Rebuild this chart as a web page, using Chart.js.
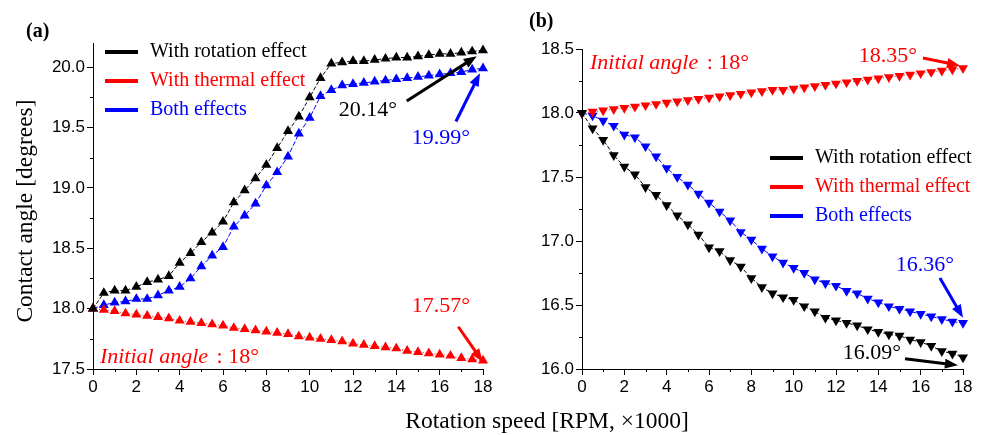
<!DOCTYPE html>
<html>
<head>
<meta charset="utf-8">
<title>Contact angle vs rotation speed</title>
<script src="https://cdn.jsdelivr.net/npm/chart.js@4.4.0/dist/chart.umd.min.js"></script>
<style>
  body { margin: 0; background: #fff; }
  #wrap { position: relative; width: 983px; height: 435px; }
  #wrap canvas { position: absolute; left: 0; top: 0; }
</style>
</head>
<body>
<div id="wrap">
  <canvas id="chartA" width="983" height="435"></canvas>
  <canvas id="chartB" width="983" height="435"></canvas>
</div>
<script>
// rotation speed [RPM x1000]
const rpm = [0, 0.5, 1, 1.5, 2, 2.5, 3, 3.5, 4, 4.5, 5, 5.5, 6, 6.5, 7, 7.5, 8, 8.5, 9,
  9.5, 10, 10.5, 11, 11.5, 12, 12.5, 13, 13.5, 14, 14.5, 15, 15.5, 16, 16.5, 17, 17.5, 18];

// panel (a) contact angle [deg]
const aRotation = [18.00, 18.13, 18.15, 18.15, 18.18, 18.22, 18.24, 18.27, 18.38, 18.46, 18.55, 18.63,
  18.72, 18.88, 18.98, 19.08, 19.19, 19.33, 19.47, 19.59, 19.75, 19.91, 20.03, 20.04, 20.05, 20.05,
  20.06, 20.07, 20.08, 20.08, 20.09, 20.10, 20.11, 20.11, 20.12, 20.13, 20.14];
const aThermal = [18.00, 17.99, 17.98, 17.96, 17.95, 17.94, 17.93, 17.92, 17.90, 17.89, 17.88, 17.87,
  17.86, 17.84, 17.83, 17.82, 17.81, 17.80, 17.79, 17.77, 17.76, 17.75, 17.74, 17.73, 17.71, 17.70,
  17.69, 17.68, 17.67, 17.65, 17.64, 17.63, 17.62, 17.61, 17.59, 17.58, 17.57];
const aBoth = [18.00, 18.03, 18.05, 18.06, 18.08, 18.08, 18.11, 18.15, 18.18, 18.25, 18.35, 18.44,
  18.51, 18.68, 18.77, 18.87, 19.02, 19.13, 19.26, 19.45, 19.58, 19.76, 19.81, 19.85, 19.86, 19.87,
  19.88, 19.89, 19.90, 19.91, 19.92, 19.93, 19.94, 19.95, 19.96, 19.98, 19.99];

// panel (b) contact angle [deg]
const bRotation = [18.00, 17.88, 17.79, 17.67, 17.58, 17.52, 17.42, 17.36, 17.28, 17.20, 17.13, 17.05,
  16.95, 16.92, 16.85, 16.80, 16.71, 16.64, 16.59, 16.56, 16.54, 16.49, 16.45, 16.40, 16.38, 16.36,
  16.34, 16.31, 16.29, 16.27, 16.26, 16.23, 16.21, 16.18, 16.14, 16.12, 16.09];
const bThermal = [18.00, 18.01, 18.02, 18.03, 18.04, 18.05, 18.06, 18.07, 18.08, 18.09, 18.10, 18.11,
  18.12, 18.13, 18.14, 18.15, 18.16, 18.17, 18.18, 18.18, 18.19, 18.20, 18.21, 18.22, 18.23, 18.24,
  18.25, 18.26, 18.27, 18.28, 18.29, 18.30, 18.31, 18.32, 18.33, 18.34, 18.35];
const bBoth = [18.00, 17.98, 17.94, 17.90, 17.83, 17.81, 17.74, 17.66, 17.57, 17.50, 17.44, 17.37,
  17.30, 17.23, 17.16, 17.07, 17.01, 16.94, 16.88, 16.83, 16.79, 16.75, 16.70, 16.67, 16.65, 16.61,
  16.59, 16.55, 16.52, 16.49, 16.47, 16.45, 16.43, 16.41, 16.39, 16.37, 16.36];

// tick labels
const xTicks = [0, 2, 4, 6, 8, 10, 12, 14, 16, 18];
const xMinor = [1, 3, 5, 7, 9, 11, 13, 15, 17];
const yTicksA = [17.5, 18.0, 18.5, 19.0, 19.5, 20.0];
const yMinorA = [17.75, 18.25, 18.75, 19.25, 19.75];
const yTicksB = [16.0, 16.5, 17.0, 17.5, 18.0, 18.5];
const yMinorB = [16.25, 16.75, 17.25, 17.75, 18.25];

const seriesNames = ['With rotation effect', 'With thermal effect', 'Both effects'];
const seriesColors = ['#000000', '#ff0000', '#0000ff'];
const seriesDash = [[4, 2], [1, 2], [5, 2]];

// final-value callouts, in data units
const notesA = [
  { text: '20.14°', color: '#000000', at: [12.69, 19.64], from: [14.48, 19.72], to: [17.71, 20.09] },
  { text: '19.99°', color: '#0000ff', at: [16.06, 19.41], from: [16.75, 19.55], to: [17.86, 19.95] },
  { text: '17.57°', color: '#ff0000', at: [16.06, 18.02], from: [16.86, 17.85], to: [17.98, 17.56] }
];
const notesB = [
  { text: '18.35°', color: '#ff0000', at: [14.45, 18.44], from: [16.11, 18.43], to: [17.86, 18.37] },
  { text: '16.36°', color: '#0000ff', at: [16.2, 16.81], from: [16.91, 16.71], to: [18.0, 16.40] },
  { text: '16.09°', color: '#000000', at: [13.7, 16.125], from: [15.26, 16.08], to: [17.76, 16.03] }
];

const SERIF = "'Liberation Serif', 'Times New Roman', serif";
const SANS = "'Liberation Sans', Arial, sans-serif";

function arrow(ctx, x1, y1, x2, y2, color) {
    const ang = Math.atan2(y2 - y1, x2 - x1);
    const len = 13, half = 5;
    ctx.strokeStyle = color;
    ctx.fillStyle = color;
    ctx.lineWidth = 3;
    ctx.beginPath();
    ctx.moveTo(x1, y1);
    ctx.lineTo(x2 - Math.cos(ang) * len * 0.8, y2 - Math.sin(ang) * len * 0.8);
    ctx.stroke();
    ctx.beginPath();
    ctx.moveTo(x2, y2);
    ctx.lineTo(x2 - Math.cos(ang) * len - Math.sin(ang) * half, y2 - Math.sin(ang) * len + Math.cos(ang) * half);
    ctx.lineTo(x2 - Math.cos(ang) * len + Math.sin(ang) * half, y2 - Math.sin(ang) * len - Math.cos(ang) * half);
    ctx.closePath();
    ctx.fill();
}

// minor ticks, legend, callouts and "Initial angle" text for one panel
function makeDecor(cfg) {
    return {
        id: 'decor',
        afterDraw(chart) {
            const ctx = chart.ctx;
            const xs = chart.scales.x, ys = chart.scales.y;
            const area = chart.chartArea;
            ctx.save();

            ctx.strokeStyle = '#000';
            ctx.lineWidth = 1;
            ctx.beginPath();
            cfg.minorX.forEach(v => {
                const px = Math.round(xs.getPixelForValue(v)) + 0.5;
                ctx.moveTo(px, area.bottom);
                ctx.lineTo(px, area.bottom + 3);
            });
            cfg.minorY.forEach(v => {
                const py = Math.round(ys.getPixelForValue(v)) + 0.5;
                ctx.moveTo(area.left - 3, py);
                ctx.lineTo(area.left, py);
            });
            ctx.stroke();

            // legend
            ctx.font = '20px ' + SERIF;
            ctx.textBaseline = 'middle';
            ctx.textAlign = 'left';
            chart.data.datasets.forEach((ds, i) => {
                const y = cfg.legend.y + i * cfg.legend.dy;
                ctx.strokeStyle = ds.borderColor;
                ctx.lineWidth = 4;
                ctx.beginPath();
                ctx.moveTo(cfg.legend.x, y);
                ctx.lineTo(cfg.legend.x + 33, y);
                ctx.stroke();
                ctx.fillStyle = ds.borderColor;
                ctx.fillText(ds.label, cfg.legend.x + 45, y);
            });

            // callouts
            cfg.notes.forEach(n => {
                ctx.font = '22px ' + SERIF;
                ctx.fillStyle = n.color;
                ctx.textAlign = 'center';
                ctx.textBaseline = 'middle';
                ctx.fillText(n.text, xs.getPixelForValue(n.at[0]), ys.getPixelForValue(n.at[1]));
                arrow(ctx, xs.getPixelForValue(n.from[0]), ys.getPixelForValue(n.from[1]),
                    xs.getPixelForValue(n.to[0]), ys.getPixelForValue(n.to[1]), n.color);
            });

            // Initial angle : 18°
            const ix = xs.getPixelForValue(cfg.initial[0]);
            const iy = ys.getPixelForValue(cfg.initial[1]);
            ctx.fillStyle = '#ff0000';
            ctx.textAlign = 'left';
            ctx.textBaseline = 'alphabetic';
            ctx.font = 'italic 22px ' + SERIF;
            ctx.fillText('Initial angle', ix, iy);
            const w = ctx.measureText('Initial angle').width;
            ctx.font = '22px ' + SERIF;
            ctx.fillText(' : 18°', ix + w + 3, iy);

            ctx.restore();
        }
    };
}

// figure-level text: panel letters and axis titles
const figureText = {
    id: 'figureText',
    afterDraw(chart) {
        const ctx = chart.ctx;
        ctx.save();
        ctx.fillStyle = '#000';
        ctx.textAlign = 'left';
        ctx.textBaseline = 'alphabetic';
        ctx.font = 'bold 20px ' + SERIF;
        ctx.fillText('(a)', 26, 37);
        ctx.fillText('(b)', 529, 27);

        ctx.font = '23.5px ' + SERIF;
        ctx.textAlign = 'center';
        ctx.fillText('Rotation speed [RPM, \u00d71000]', 547, 428);

        ctx.translate(26, 211);
        ctx.rotate(-Math.PI / 2);
        ctx.textBaseline = 'middle';
        ctx.fillText('Contact angle [degrees]', 0, 0);
        ctx.restore();
    }
};

function makeDatasets(series, rot) {
    return series.map((vals, i) => ({
        label: seriesNames[i],
        data: rpm.map((x, k) => ({ x: x, y: vals[k] })),
        borderColor: seriesColors[i],
        backgroundColor: seriesColors[i],
        borderWidth: 1,
        borderDash: seriesDash[i],
        pointStyle: 'triangle',
        pointRadius: 5.8,
        pointBorderWidth: 0,
        pointRotation: rot,
        tension: 0,
        clip: false
    }));
}

function makeScales(yMin, yMax, yTicks, yWidth) {
    return {
        x: {
            type: 'linear', min: 0, max: 18,
            afterBuildTicks: s => { s.ticks = xTicks.map(v => ({ value: v })); },
            afterFit: s => { s.height = 30; },
            ticks: { font: { family: SANS, size: 17 }, color: '#000', padding: 2, maxRotation: 0, autoSkip: false },
            grid: { drawOnChartArea: false, drawTicks: true, tickLength: 6, color: '#000' },
            border: { display: true, color: '#000', width: 1 }
        },
        y: {
            type: 'linear', min: yMin, max: yMax,
            afterBuildTicks: s => { s.ticks = yTicks.map(v => ({ value: v })); },
            afterFit: s => { s.width = yWidth; },
            ticks: { font: { family: SANS, size: 17 }, color: '#000', padding: 2, callback: v => v.toFixed(1) },
            grid: { drawOnChartArea: false, drawTicks: true, tickLength: 6, color: '#000' },
            border: { display: true, color: '#000', width: 1 }
        }
    };
}

const chartA = new Chart(document.getElementById('chartA'), {
    type: 'line',
    data: { datasets: makeDatasets([aRotation, aThermal, aBoth], 0) },
    options: {
        responsive: false,
        animation: false,
        devicePixelRatio: 1,
        layout: { padding: { left: 0, top: 43, right: 500, bottom: 36 } },
        plugins: { legend: { display: false }, tooltip: { enabled: false } },
        scales: makeScales(17.5, 20.2, yTicksA, 93)
    },
    plugins: [makeDecor({
        minorX: xMinor, minorY: yMinorA,
        legend: { x: 105, y: 52, dy: 29 },
        notes: notesA, initial: [0.32, 17.55]
    }), figureText]
});

const chartB = new Chart(document.getElementById('chartB'), {
    type: 'line',
    data: { datasets: makeDatasets([bRotation, bThermal, bBoth], 180) },
    options: {
        responsive: false,
        animation: false,
        devicePixelRatio: 1,
        layout: { padding: { left: 500, top: 49, right: 20, bottom: 36 } },
        plugins: { legend: { display: false }, tooltip: { enabled: false } },
        scales: makeScales(16.0, 18.5, yTicksB, 82)
    },
    plugins: [makeDecor({
        minorX: xMinor, minorY: yMinorB,
        legend: { x: 770, y: 158, dy: 29 },
        notes: notesB, initial: [0.38, 18.34]
    })]
});
</script>
</body>
</html>
